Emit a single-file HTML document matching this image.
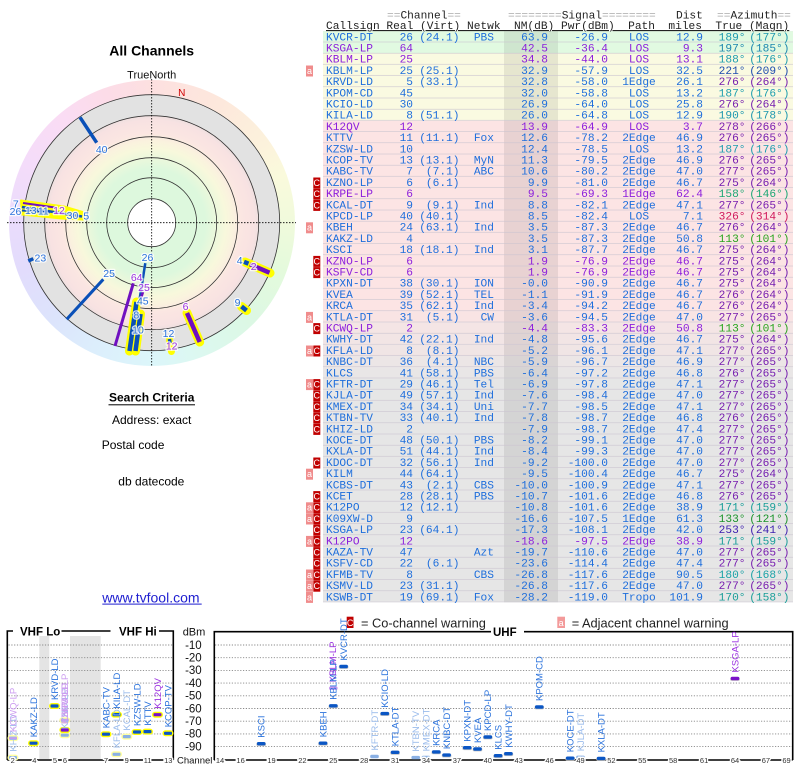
<!DOCTYPE html>
<html><head><meta charset="utf-8">
<style>
html,body{margin:0;padding:0;background:#fff}
body{width:800px;height:768px;overflow:hidden;position:relative}
svg text{font-family:"Liberation Sans",Arial,sans-serif}
.t text{font-family:"Liberation Mono",monospace;font-size:11.2px}
.e{text-anchor:end}.m{text-anchor:middle}
.B{fill:#1e6edc}.P{fill:#8c1edc}
.h{paint-order:stroke;stroke:#fff;stroke-width:2.6px;stroke-opacity:.8;stroke-linejoin:round}
.rl text{font-size:10.5px}
.vl text{font-size:9.5px}
.lb{fill:#2a72dc}.lbf{fill:#9bbcec}.lp{fill:#9a30e0}.lpf{fill:#cc9cf0}
.ax text{font-size:7.5px;fill:#333;text-anchor:middle;paint-order:stroke;stroke:#fff;stroke-width:3px}
.yl text{font-size:11.5px;fill:#111;text-anchor:end}
.ic text{font-size:9px;fill:#fff;text-anchor:middle}
</style></head><body>
<div style="position:absolute;left:8.7px;top:79.7px;width:286px;height:286px;border-radius:50%;background:conic-gradient(#fde0e0 0deg,#fde8dc 30deg,#fcf2dc 55deg,#fafadc 70deg,#f0fadc 90deg,#e4fadc 110deg,#dcf8e4 135deg,#dcf8f0 160deg,#dcf6fa 180deg,#dceefc 205deg,#dce4fc 225deg,#e2dcfc 250deg,#eadcfc 270deg,#f4dcfa 295deg,#fadcf4 320deg,#fcdce8 340deg,#fde0e0 360deg)"></div>
<svg style="position:absolute;left:0;top:0" width="800" height="768" viewBox="0 0 800 768">
<defs>
<radialGradient id="rg" gradientUnits="userSpaceOnUse" cx="151.7" cy="222.7" r="128">
<stop offset="0" stop-color="#ddf8dd"/><stop offset="0.42" stop-color="#ddf8dd"/><stop offset="0.52" stop-color="#eef8dc"/><stop offset="0.58" stop-color="#f8f8dc"/><stop offset="0.64" stop-color="#faf2de"/><stop offset="0.7" stop-color="#fbe6e2"/><stop offset="0.8" stop-color="#f8e2e2"/><stop offset="0.835" stop-color="#efe0e0"/><stop offset="0.842" stop-color="#e2e2e2"/><stop offset="1" stop-color="#e2e2e2"/>
</radialGradient>
<pattern id="sep" patternUnits="userSpaceOnUse" x="0" y="31.1" width="800" height="11.2"><rect x="0" y="10.6" width="800" height="0.9" fill="#cbc4d0"/></pattern>
</defs>

<!-- ===== Polar chart ===== -->
<text x="151.7" y="55.7" text-anchor="middle" style="font-size:14px;font-weight:bold" fill="#000">All Channels</text>
<text x="151.7" y="78.3" text-anchor="middle" style="font-size:11px" fill="#111">TrueNorth</text>
<circle cx="151.7" cy="222.7" r="128" fill="url(#rg)"/>
<g fill="none" stroke="#333" stroke-width="0.8">
<circle cx="151.7" cy="222.7" r="128"/><circle cx="151.7" cy="222.7" r="107"/><circle cx="151.7" cy="222.7" r="86"/><circle cx="151.7" cy="222.7" r="65"/><circle cx="151.7" cy="222.7" r="45"/>
</g>
<circle cx="151.7" cy="222.7" r="24" fill="#fff" stroke="#333" stroke-width="0.8"/>
<path d="M7,222.7H296M151.7,79V367" stroke="#000" stroke-width="0.8" stroke-dasharray="1.5 1.5" fill="none"/>
<text x="181.7" y="96" text-anchor="middle" style="font-size:10px" fill="#d00000">N</text>

<!-- stations -->
<g stroke-linecap="butt" fill="none">
<line x1="80" y1="117.3" x2="96.7" y2="142.7" stroke="#0a50b8" stroke-width="3.5"/>
<path d="M21,200.5 L64,206.5 L82.5,212 L83,219.5 L62,218.5 L22,214.5 Z" fill="#ffff00" stroke="#ffff00" stroke-width="2" stroke-linejoin="round"/>
<line x1="23" y1="203" x2="55" y2="207.5" stroke="#7010c0" stroke-width="2"/>
<line x1="22" y1="207" x2="82" y2="216.5" stroke="#0a50b8" stroke-width="2.5"/>
<line x1="22" y1="210.5" x2="50" y2="212.5" stroke="#0a50b8" stroke-width="2"/>
<line x1="28.3" y1="261" x2="33.3" y2="258.7" stroke="#0a50b8" stroke-width="3.5"/>
<line x1="66.7" y1="319.3" x2="103.3" y2="279.3" stroke="#0a50b8" stroke-width="3"/>
<line x1="133.3" y1="283.3" x2="115" y2="346" stroke="#7010c0" stroke-width="3"/>
<line x1="145.3" y1="263.2" x2="131.7" y2="349.1" stroke="#0a50b8" stroke-width="2.5"/>
<line x1="143" y1="292" x2="138.5" y2="306" stroke="#7010c0" stroke-width="2.5"/>
<g stroke="#ffff00" stroke-width="9" stroke-linecap="round">
<line x1="136.5" y1="302" x2="129.5" y2="351"/><line x1="140.5" y1="314" x2="135.5" y2="351"/>
<line x1="169.5" y1="339.5" x2="171.5" y2="351.5" stroke-width="7"/>
<line x1="187" y1="313" x2="199.7" y2="342"/>
<line x1="245" y1="262" x2="270" y2="273"/>
<line x1="241.5" y1="306.5" x2="246.5" y2="310.5"/>
</g>
<line x1="136.5" y1="302" x2="129.5" y2="351" stroke="#0a50b8" stroke-width="4.5"/>
<line x1="140.5" y1="314" x2="135.5" y2="351" stroke="#0a50b8" stroke-width="4.5"/>
<line x1="169.5" y1="339" x2="170" y2="343" stroke="#0a50b8" stroke-width="3.5"/>
<line x1="187" y1="313" x2="199.7" y2="342" stroke="#7010c0" stroke-width="4.5"/>
<line x1="250" y1="264.3" x2="269.5" y2="272.7" stroke="#7010c0" stroke-width="4.5"/>
<line x1="244" y1="261.8" x2="248.5" y2="263.7" stroke="#0a50b8" stroke-width="4.5"/>
<line x1="241.5" y1="306.5" x2="246.5" y2="310.5" stroke="#0a50b8" stroke-width="4.5"/>
</g>
<g class="rl">
<text class="h lb" x="101.7" y="153" text-anchor="middle">40</text>
<text class="h lb" x="15.8" y="207.3" text-anchor="middle">7</text>
<text class="h lb" x="15.5" y="214.8" text-anchor="middle">26</text>
<text class="h lb" x="30.8" y="214" text-anchor="middle">13</text>
<text class="h lb" x="43.3" y="214.5" text-anchor="middle">11</text>
<text class="h lp" x="59" y="214" text-anchor="middle">12</text>
<text class="h lb" x="72.5" y="219" text-anchor="middle">30</text>
<text class="h lb" x="86.3" y="219.5" text-anchor="middle">5</text>
<text class="h lb" x="34.5" y="261.7">23</text>
<text class="h lb" x="103.3" y="276.8">25</text>
<text class="h lb" x="147.5" y="261" text-anchor="middle">26</text>
<text class="h lp" x="136.7" y="281" text-anchor="middle">64</text>
<text class="h lp" x="144" y="291" text-anchor="middle">25</text>
<text class="h lb" x="142.8" y="304.5" text-anchor="middle">45</text>
<text class="h lb" x="136.3" y="318.5" text-anchor="middle">8</text>
<text class="h lb" x="138" y="333.5" text-anchor="middle">10</text>
<text class="h lb" x="168.5" y="337" text-anchor="middle">12</text>
<text class="h lp" x="171.7" y="349.5" text-anchor="middle">12</text>
<text class="h lp" x="185.5" y="310" text-anchor="middle">6</text>
<text class="h lb" x="239.7" y="264" text-anchor="middle">4</text>
<text class="h lp" x="253.7" y="270" text-anchor="middle">2</text>
<text class="h lb" x="237.5" y="306" text-anchor="middle">9</text>
</g>

<!-- ===== Search criteria ===== -->
<text x="151.7" y="401.7" text-anchor="middle" style="font-size:12px;font-weight:bold" fill="#000">Search Criteria</text>
<rect x="108.5" y="404.3" width="86.5" height="1" fill="#000"/>
<text x="151.7" y="424" text-anchor="middle" style="font-size:12px" fill="#000">Address: exact</text>
<text x="101.7" y="449" style="font-size:12px" fill="#000">Postal code</text>
<text x="118.3" y="485.7" style="font-size:12px" fill="#000">db datecode</text>
<text x="102.3" y="602.3" style="font-size:14px" fill="#1f1fd0">www.tvfool.com</text>
<rect x="102.3" y="603.6" width="99.4" height="1" fill="#1f1fd0"/>

<!-- ===== Table ===== -->
<rect x="323" y="31.1" width="470" height="22.4" fill="#e1fae1"/>
<rect x="323" y="53.5" width="470" height="67.2" fill="#fafae1"/>
<rect x="323" y="120.7" width="470" height="190.4" fill="#fce4e4"/>
<rect x="323" y="311.1" width="470" height="11.2" fill="#f9e4e4"/>
<rect x="323" y="322.3" width="470" height="11.2" fill="#f4e5e5"/>
<rect x="323" y="333.5" width="470" height="11.2" fill="#f2e5e5"/>
<rect x="323" y="344.7" width="470" height="11.2" fill="#f0e5e5"/>
<rect x="323" y="355.9" width="470" height="11.2" fill="#ece6e6"/>
<rect x="323" y="367.1" width="470" height="11.2" fill="#e9e6e6"/>
<rect x="323" y="378.3" width="470" height="224" fill="#e6e6e6"/>
<rect x="504" y="31.1" width="54" height="571.2" fill="#000" fill-opacity="0.08"/>
<rect x="323" y="31.1" width="470" height="571.2" fill="url(#sep)"/>

<g class="t">
<text x="387" y="18.3" fill="#222"><tspan fill="#aaa">==</tspan>Channel<tspan fill="#aaa">==</tspan></text>
<text x="508" y="18.3" fill="#222"><tspan fill="#aaa">========</tspan>Signal<tspan fill="#aaa">========</tspan></text>
<text x="676" y="18.3" fill="#222">Dist</text>
<text x="717" y="18.3" fill="#222"><tspan fill="#aaa">==</tspan>Azimuth<tspan fill="#aaa">==</tspan></text>
<text x="326" y="29" fill="#222" xml:space="preserve" style="text-decoration:underline">Callsign Real (Virt) Netwk  NM(dB) Pwr(dBm)  Path  miles  True (Magn)</text>

<g class="B" transform="translate(0,40.3)"><text x="326">KVCR-DT</text><text class="e" x="413">26</text><text class="e" x="459.5">(24.1)</text><text class="e" x="494">PBS</text><text class="e" x="548">63.9</text><text class="e" x="608">-26.9</text><text class="m" x="639">LOS</text><text class="e" x="703">12.9</text><text class="e" x="745.5" fill="hsl(189,72%,40%)">189°</text><text class="e" x="789.5" fill="hsl(189,72%,40%)">(177°)</text></g>
<g class="P" transform="translate(0,51.5)"><text x="326">KSGA-LP</text><text class="e" x="413">64</text><text class="e" x="548">42.5</text><text class="e" x="608">-36.4</text><text class="m" x="639">LOS</text><text class="e" x="703">9.3</text><text class="e" x="745.5" fill="hsl(197,72%,40%)">197°</text><text class="e" x="789.5" fill="hsl(197,72%,40%)">(185°)</text></g>
<g class="P" transform="translate(0,62.7)"><text x="326">KBLM-LP</text><text class="e" x="413">25</text><text class="e" x="548">34.8</text><text class="e" x="608">-44.0</text><text class="m" x="639">LOS</text><text class="e" x="703">13.1</text><text class="e" x="745.5" fill="hsl(188,72%,40%)">188°</text><text class="e" x="789.5" fill="hsl(188,72%,40%)">(176°)</text></g>
<g class="B" transform="translate(0,73.9)"><text x="326">KBLM-LP</text><text class="e" x="413">25</text><text class="e" x="459.5">(25.1)</text><text class="e" x="548">32.9</text><text class="e" x="608">-57.9</text><text class="m" x="639">LOS</text><text class="e" x="703">32.5</text><text class="e" x="745.5" fill="hsl(221,72%,40%)">221°</text><text class="e" x="789.5" fill="hsl(221,72%,40%)">(209°)</text></g>
<g class="B" transform="translate(0,85.1)"><text x="326">KRVD-LD</text><text class="e" x="413">5</text><text class="e" x="459.5">(33.1)</text><text class="e" x="548">32.8</text><text class="e" x="608">-58.0</text><text class="m" x="639">1Edge</text><text class="e" x="703">26.1</text><text class="e" x="745.5" fill="hsl(276,72%,40%)">276°</text><text class="e" x="789.5" fill="hsl(276,72%,40%)">(264°)</text></g>
<g class="B" transform="translate(0,96.3)"><text x="326">KPOM-CD</text><text class="e" x="413">45</text><text class="e" x="548">32.0</text><text class="e" x="608">-58.8</text><text class="m" x="639">LOS</text><text class="e" x="703">13.2</text><text class="e" x="745.5" fill="hsl(187,72%,40%)">187°</text><text class="e" x="789.5" fill="hsl(187,72%,40%)">(176°)</text></g>
<g class="B" transform="translate(0,107.5)"><text x="326">KCIO-LD</text><text class="e" x="413">30</text><text class="e" x="548">26.9</text><text class="e" x="608">-64.0</text><text class="m" x="639">LOS</text><text class="e" x="703">25.8</text><text class="e" x="745.5" fill="hsl(276,72%,40%)">276°</text><text class="e" x="789.5" fill="hsl(276,72%,40%)">(264°)</text></g>
<g class="B" transform="translate(0,118.7)"><text x="326">KILA-LD</text><text class="e" x="413">8</text><text class="e" x="459.5">(51.1)</text><text class="e" x="548">26.0</text><text class="e" x="608">-64.8</text><text class="m" x="639">LOS</text><text class="e" x="703">12.9</text><text class="e" x="745.5" fill="hsl(190,72%,40%)">190°</text><text class="e" x="789.5" fill="hsl(190,72%,40%)">(178°)</text></g>
<g class="P" transform="translate(0,129.9)"><text x="326">K12QV</text><text class="e" x="413">12</text><text class="e" x="548">13.9</text><text class="e" x="608">-64.9</text><text class="m" x="639">LOS</text><text class="e" x="703">3.7</text><text class="e" x="745.5" fill="hsl(278,72%,40%)">278°</text><text class="e" x="789.5" fill="hsl(278,72%,40%)">(266°)</text></g>
<g class="B" transform="translate(0,141.1)"><text x="326">KTTV</text><text class="e" x="413">11</text><text class="e" x="459.5">(11.1)</text><text class="e" x="494">Fox</text><text class="e" x="548">12.6</text><text class="e" x="608">-78.2</text><text class="m" x="639">2Edge</text><text class="e" x="703">46.9</text><text class="e" x="745.5" fill="hsl(276,72%,40%)">276°</text><text class="e" x="789.5" fill="hsl(276,72%,40%)">(265°)</text></g>
<g class="B" transform="translate(0,152.3)"><text x="326">KZSW-LD</text><text class="e" x="413">10</text><text class="e" x="548">12.4</text><text class="e" x="608">-78.5</text><text class="m" x="639">LOS</text><text class="e" x="703">13.2</text><text class="e" x="745.5" fill="hsl(187,72%,40%)">187°</text><text class="e" x="789.5" fill="hsl(187,72%,40%)">(176°)</text></g>
<g class="B" transform="translate(0,163.5)"><text x="326">KCOP-TV</text><text class="e" x="413">13</text><text class="e" x="459.5">(13.1)</text><text class="e" x="494">MyN</text><text class="e" x="548">11.3</text><text class="e" x="608">-79.5</text><text class="m" x="639">2Edge</text><text class="e" x="703">46.9</text><text class="e" x="745.5" fill="hsl(276,72%,40%)">276°</text><text class="e" x="789.5" fill="hsl(276,72%,40%)">(265°)</text></g>
<g class="B" transform="translate(0,174.7)"><text x="326">KABC-TV</text><text class="e" x="413">7</text><text class="e" x="459.5">(7.1)</text><text class="e" x="494">ABC</text><text class="e" x="548">10.6</text><text class="e" x="608">-80.2</text><text class="m" x="639">2Edge</text><text class="e" x="703">47.0</text><text class="e" x="745.5" fill="hsl(277,72%,40%)">277°</text><text class="e" x="789.5" fill="hsl(277,72%,40%)">(265°)</text></g>
<g class="B" transform="translate(0,185.9)"><text x="326">KZNO-LP</text><text class="e" x="413">6</text><text class="e" x="459.5">(6.1)</text><text class="e" x="548">9.9</text><text class="e" x="608">-81.0</text><text class="m" x="639">2Edge</text><text class="e" x="703">46.7</text><text class="e" x="745.5" fill="hsl(275,72%,40%)">275°</text><text class="e" x="789.5" fill="hsl(275,72%,40%)">(264°)</text></g>
<g class="P" transform="translate(0,197.1)"><text x="326">KRPE-LP</text><text class="e" x="413">6</text><text class="e" x="548">9.5</text><text class="e" x="608">-69.3</text><text class="m" x="639">1Edge</text><text class="e" x="703">62.4</text><text class="e" x="745.5" fill="hsl(158,72%,38%)">158°</text><text class="e" x="789.5" fill="hsl(158,72%,38%)">(146°)</text></g>
<g class="B" transform="translate(0,208.3)"><text x="326">KCAL-DT</text><text class="e" x="413">9</text><text class="e" x="459.5">(9.1)</text><text class="e" x="494">Ind</text><text class="e" x="548">8.8</text><text class="e" x="608">-82.1</text><text class="m" x="639">2Edge</text><text class="e" x="703">47.1</text><text class="e" x="745.5" fill="hsl(277,72%,40%)">277°</text><text class="e" x="789.5" fill="hsl(277,72%,40%)">(265°)</text></g>
<g class="B" transform="translate(0,219.5)"><text x="326">KPCD-LP</text><text class="e" x="413">40</text><text class="e" x="459.5">(40.1)</text><text class="e" x="548">8.5</text><text class="e" x="608">-82.4</text><text class="m" x="639">LOS</text><text class="e" x="703">7.1</text><text class="e" x="745.5" fill="hsl(338,80%,45%)">326°</text><text class="e" x="789.5" fill="hsl(338,80%,45%)">(314°)</text></g>
<g class="B" transform="translate(0,230.7)"><text x="326">KBEH</text><text class="e" x="413">24</text><text class="e" x="459.5">(63.1)</text><text class="e" x="494">Ind</text><text class="e" x="548">3.5</text><text class="e" x="608">-87.3</text><text class="m" x="639">2Edge</text><text class="e" x="703">46.7</text><text class="e" x="745.5" fill="hsl(276,72%,40%)">276°</text><text class="e" x="789.5" fill="hsl(276,72%,40%)">(264°)</text></g>
<g class="B" transform="translate(0,241.9)"><text x="326">KAKZ-LD</text><text class="e" x="413">4</text><text class="e" x="548">3.5</text><text class="e" x="608">-87.3</text><text class="m" x="639">2Edge</text><text class="e" x="703">50.8</text><text class="e" x="745.5" fill="hsl(115,70%,38%)">113°</text><text class="e" x="789.5" fill="hsl(115,70%,38%)">(101°)</text></g>
<g class="B" transform="translate(0,253.1)"><text x="326">KSCI</text><text class="e" x="413">18</text><text class="e" x="459.5">(18.1)</text><text class="e" x="494">Ind</text><text class="e" x="548">3.1</text><text class="e" x="608">-87.7</text><text class="m" x="639">2Edge</text><text class="e" x="703">46.7</text><text class="e" x="745.5" fill="hsl(275,72%,40%)">275°</text><text class="e" x="789.5" fill="hsl(275,72%,40%)">(264°)</text></g>
<g class="P" transform="translate(0,264.3)"><text x="326">KZNO-LP</text><text class="e" x="413">6</text><text class="e" x="548">1.9</text><text class="e" x="608">-76.9</text><text class="m" x="639">2Edge</text><text class="e" x="703">46.7</text><text class="e" x="745.5" fill="hsl(275,72%,40%)">275°</text><text class="e" x="789.5" fill="hsl(275,72%,40%)">(264°)</text></g>
<g class="P" transform="translate(0,275.5)"><text x="326">KSFV-CD</text><text class="e" x="413">6</text><text class="e" x="548">1.9</text><text class="e" x="608">-76.9</text><text class="m" x="639">2Edge</text><text class="e" x="703">46.7</text><text class="e" x="745.5" fill="hsl(275,72%,40%)">275°</text><text class="e" x="789.5" fill="hsl(275,72%,40%)">(264°)</text></g>
<g class="B" transform="translate(0,286.7)"><text x="326">KPXN-DT</text><text class="e" x="413">38</text><text class="e" x="459.5">(30.1)</text><text class="e" x="494">ION</text><text class="e" x="548">-0.0</text><text class="e" x="608">-90.9</text><text class="m" x="639">2Edge</text><text class="e" x="703">46.7</text><text class="e" x="745.5" fill="hsl(275,72%,40%)">275°</text><text class="e" x="789.5" fill="hsl(275,72%,40%)">(264°)</text></g>
<g class="B" transform="translate(0,297.9)"><text x="326">KVEA</text><text class="e" x="413">39</text><text class="e" x="459.5">(52.1)</text><text class="e" x="494">TEL</text><text class="e" x="548">-1.1</text><text class="e" x="608">-91.9</text><text class="m" x="639">2Edge</text><text class="e" x="703">46.7</text><text class="e" x="745.5" fill="hsl(276,72%,40%)">276°</text><text class="e" x="789.5" fill="hsl(276,72%,40%)">(264°)</text></g>
<g class="B" transform="translate(0,309.1)"><text x="326">KRCA</text><text class="e" x="413">35</text><text class="e" x="459.5">(62.1)</text><text class="e" x="494">Ind</text><text class="e" x="548">-3.4</text><text class="e" x="608">-94.2</text><text class="m" x="639">2Edge</text><text class="e" x="703">46.7</text><text class="e" x="745.5" fill="hsl(276,72%,40%)">276°</text><text class="e" x="789.5" fill="hsl(276,72%,40%)">(264°)</text></g>
<g class="B" transform="translate(0,320.3)"><text x="326">KTLA-DT</text><text class="e" x="413">31</text><text class="e" x="459.5">(5.1)</text><text class="e" x="494">CW</text><text class="e" x="548">-3.6</text><text class="e" x="608">-94.5</text><text class="m" x="639">2Edge</text><text class="e" x="703">47.0</text><text class="e" x="745.5" fill="hsl(277,72%,40%)">277°</text><text class="e" x="789.5" fill="hsl(277,72%,40%)">(265°)</text></g>
<g class="P" transform="translate(0,331.5)"><text x="326">KCWQ-LP</text><text class="e" x="413">2</text><text class="e" x="548">-4.4</text><text class="e" x="608">-83.3</text><text class="m" x="639">2Edge</text><text class="e" x="703">50.8</text><text class="e" x="745.5" fill="hsl(115,70%,38%)">113°</text><text class="e" x="789.5" fill="hsl(115,70%,38%)">(101°)</text></g>
<g class="B" transform="translate(0,342.7)"><text x="326">KWHY-DT</text><text class="e" x="413">42</text><text class="e" x="459.5">(22.1)</text><text class="e" x="494">Ind</text><text class="e" x="548">-4.8</text><text class="e" x="608">-95.6</text><text class="m" x="639">2Edge</text><text class="e" x="703">46.7</text><text class="e" x="745.5" fill="hsl(275,72%,40%)">275°</text><text class="e" x="789.5" fill="hsl(275,72%,40%)">(264°)</text></g>
<g class="B" transform="translate(0,353.9)"><text x="326">KFLA-LD</text><text class="e" x="413">8</text><text class="e" x="459.5">(8.1)</text><text class="e" x="548">-5.2</text><text class="e" x="608">-96.1</text><text class="m" x="639">2Edge</text><text class="e" x="703">47.1</text><text class="e" x="745.5" fill="hsl(277,72%,40%)">277°</text><text class="e" x="789.5" fill="hsl(277,72%,40%)">(265°)</text></g>
<g class="B" transform="translate(0,365.1)"><text x="326">KNBC-DT</text><text class="e" x="413">36</text><text class="e" x="459.5">(4.1)</text><text class="e" x="494">NBC</text><text class="e" x="548">-5.9</text><text class="e" x="608">-96.7</text><text class="m" x="639">2Edge</text><text class="e" x="703">46.9</text><text class="e" x="745.5" fill="hsl(277,72%,40%)">277°</text><text class="e" x="789.5" fill="hsl(277,72%,40%)">(265°)</text></g>
<g class="B" transform="translate(0,376.3)"><text x="326">KLCS</text><text class="e" x="413">41</text><text class="e" x="459.5">(58.1)</text><text class="e" x="494">PBS</text><text class="e" x="548">-6.4</text><text class="e" x="608">-97.2</text><text class="m" x="639">2Edge</text><text class="e" x="703">46.8</text><text class="e" x="745.5" fill="hsl(276,72%,40%)">276°</text><text class="e" x="789.5" fill="hsl(276,72%,40%)">(265°)</text></g>
<g class="B" transform="translate(0,387.5)"><text x="326">KFTR-DT</text><text class="e" x="413">29</text><text class="e" x="459.5">(46.1)</text><text class="e" x="494">Tel</text><text class="e" x="548">-6.9</text><text class="e" x="608">-97.8</text><text class="m" x="639">2Edge</text><text class="e" x="703">47.1</text><text class="e" x="745.5" fill="hsl(277,72%,40%)">277°</text><text class="e" x="789.5" fill="hsl(277,72%,40%)">(265°)</text></g>
<g class="B" transform="translate(0,398.7)"><text x="326">KJLA-DT</text><text class="e" x="413">49</text><text class="e" x="459.5">(57.1)</text><text class="e" x="494">Ind</text><text class="e" x="548">-7.6</text><text class="e" x="608">-98.4</text><text class="m" x="639">2Edge</text><text class="e" x="703">47.0</text><text class="e" x="745.5" fill="hsl(277,72%,40%)">277°</text><text class="e" x="789.5" fill="hsl(277,72%,40%)">(265°)</text></g>
<g class="B" transform="translate(0,409.9)"><text x="326">KMEX-DT</text><text class="e" x="413">34</text><text class="e" x="459.5">(34.1)</text><text class="e" x="494">Uni</text><text class="e" x="548">-7.7</text><text class="e" x="608">-98.5</text><text class="m" x="639">2Edge</text><text class="e" x="703">47.1</text><text class="e" x="745.5" fill="hsl(277,72%,40%)">277°</text><text class="e" x="789.5" fill="hsl(277,72%,40%)">(265°)</text></g>
<g class="B" transform="translate(0,421.1)"><text x="326">KTBN-TV</text><text class="e" x="413">33</text><text class="e" x="459.5">(40.1)</text><text class="e" x="494">Ind</text><text class="e" x="548">-7.8</text><text class="e" x="608">-98.7</text><text class="m" x="639">2Edge</text><text class="e" x="703">46.8</text><text class="e" x="745.5" fill="hsl(276,72%,40%)">276°</text><text class="e" x="789.5" fill="hsl(276,72%,40%)">(265°)</text></g>
<g class="B" transform="translate(0,432.3)"><text x="326">KHIZ-LD</text><text class="e" x="413">2</text><text class="e" x="548">-7.9</text><text class="e" x="608">-98.7</text><text class="m" x="639">2Edge</text><text class="e" x="703">47.4</text><text class="e" x="745.5" fill="hsl(277,72%,40%)">277°</text><text class="e" x="789.5" fill="hsl(277,72%,40%)">(265°)</text></g>
<g class="B" transform="translate(0,443.5)"><text x="326">KOCE-DT</text><text class="e" x="413">48</text><text class="e" x="459.5">(50.1)</text><text class="e" x="494">PBS</text><text class="e" x="548">-8.2</text><text class="e" x="608">-99.1</text><text class="m" x="639">2Edge</text><text class="e" x="703">47.0</text><text class="e" x="745.5" fill="hsl(277,72%,40%)">277°</text><text class="e" x="789.5" fill="hsl(277,72%,40%)">(265°)</text></g>
<g class="B" transform="translate(0,454.7)"><text x="326">KXLA-DT</text><text class="e" x="413">51</text><text class="e" x="459.5">(44.1)</text><text class="e" x="494">Ind</text><text class="e" x="548">-8.4</text><text class="e" x="608">-99.3</text><text class="m" x="639">2Edge</text><text class="e" x="703">47.0</text><text class="e" x="745.5" fill="hsl(277,72%,40%)">277°</text><text class="e" x="789.5" fill="hsl(277,72%,40%)">(265°)</text></g>
<g class="B" transform="translate(0,465.9)"><text x="326">KDOC-DT</text><text class="e" x="413">32</text><text class="e" x="459.5">(56.1)</text><text class="e" x="494">Ind</text><text class="e" x="548">-9.2</text><text class="e" x="608">-100.0</text><text class="m" x="639">2Edge</text><text class="e" x="703">47.0</text><text class="e" x="745.5" fill="hsl(277,72%,40%)">277°</text><text class="e" x="789.5" fill="hsl(277,72%,40%)">(265°)</text></g>
<g class="B" transform="translate(0,477.1)"><text x="326">KILM</text><text class="e" x="413">44</text><text class="e" x="459.5">(64.1)</text><text class="e" x="548">-9.5</text><text class="e" x="608">-100.4</text><text class="m" x="639">2Edge</text><text class="e" x="703">46.7</text><text class="e" x="745.5" fill="hsl(275,72%,40%)">275°</text><text class="e" x="789.5" fill="hsl(275,72%,40%)">(264°)</text></g>
<g class="B" transform="translate(0,488.3)"><text x="326">KCBS-DT</text><text class="e" x="413">43</text><text class="e" x="459.5">(2.1)</text><text class="e" x="494">CBS</text><text class="e" x="548">-10.0</text><text class="e" x="608">-100.9</text><text class="m" x="639">2Edge</text><text class="e" x="703">47.1</text><text class="e" x="745.5" fill="hsl(277,72%,40%)">277°</text><text class="e" x="789.5" fill="hsl(277,72%,40%)">(265°)</text></g>
<g class="B" transform="translate(0,499.5)"><text x="326">KCET</text><text class="e" x="413">28</text><text class="e" x="459.5">(28.1)</text><text class="e" x="494">PBS</text><text class="e" x="548">-10.7</text><text class="e" x="608">-101.6</text><text class="m" x="639">2Edge</text><text class="e" x="703">46.8</text><text class="e" x="745.5" fill="hsl(276,72%,40%)">276°</text><text class="e" x="789.5" fill="hsl(276,72%,40%)">(265°)</text></g>
<g class="B" transform="translate(0,510.7)"><text x="326">K12PO</text><text class="e" x="413">12</text><text class="e" x="459.5">(12.1)</text><text class="e" x="548">-10.8</text><text class="e" x="608">-101.6</text><text class="m" x="639">2Edge</text><text class="e" x="703">38.9</text><text class="e" x="745.5" fill="hsl(178,72%,36%)">171°</text><text class="e" x="789.5" fill="hsl(178,72%,36%)">(159°)</text></g>
<g class="B" transform="translate(0,521.9)"><text x="326">K09XW-D</text><text class="e" x="413">9</text><text class="e" x="548">-16.6</text><text class="e" x="608">-107.5</text><text class="m" x="639">1Edge</text><text class="e" x="703">61.3</text><text class="e" x="745.5" fill="hsl(128,70%,34%)">133°</text><text class="e" x="789.5" fill="hsl(128,70%,34%)">(121°)</text></g>
<g class="B" transform="translate(0,533.1)"><text x="326">KSGA-LP</text><text class="e" x="413">23</text><text class="e" x="459.5">(64.1)</text><text class="e" x="548">-17.3</text><text class="e" x="608">-108.1</text><text class="m" x="639">2Edge</text><text class="e" x="703">42.0</text><text class="e" x="745.5" fill="hsl(253,72%,40%)">253°</text><text class="e" x="789.5" fill="hsl(253,72%,40%)">(241°)</text></g>
<g class="P" transform="translate(0,544.3)"><text x="326">K12PO</text><text class="e" x="413">12</text><text class="e" x="548">-18.6</text><text class="e" x="608">-97.5</text><text class="m" x="639">2Edge</text><text class="e" x="703">38.9</text><text class="e" x="745.5" fill="hsl(178,72%,36%)">171°</text><text class="e" x="789.5" fill="hsl(178,72%,36%)">(159°)</text></g>
<g class="B" transform="translate(0,555.5)"><text x="326">KAZA-TV</text><text class="e" x="413">47</text><text class="e" x="494">Azt</text><text class="e" x="548">-19.7</text><text class="e" x="608">-110.6</text><text class="m" x="639">2Edge</text><text class="e" x="703">47.0</text><text class="e" x="745.5" fill="hsl(277,72%,40%)">277°</text><text class="e" x="789.5" fill="hsl(277,72%,40%)">(265°)</text></g>
<g class="B" transform="translate(0,566.7)"><text x="326">KSFV-CD</text><text class="e" x="413">22</text><text class="e" x="459.5">(6.1)</text><text class="e" x="548">-23.6</text><text class="e" x="608">-114.4</text><text class="m" x="639">2Edge</text><text class="e" x="703">47.4</text><text class="e" x="745.5" fill="hsl(277,72%,40%)">277°</text><text class="e" x="789.5" fill="hsl(277,72%,40%)">(265°)</text></g>
<g class="B" transform="translate(0,577.9)"><text x="326">KFMB-TV</text><text class="e" x="413">8</text><text class="e" x="494">CBS</text><text class="e" x="548">-26.8</text><text class="e" x="608">-117.6</text><text class="m" x="639">2Edge</text><text class="e" x="703">90.5</text><text class="e" x="745.5" fill="hsl(182,72%,38%)">180°</text><text class="e" x="789.5" fill="hsl(182,72%,38%)">(168°)</text></g>
<g class="B" transform="translate(0,589.1)"><text x="326">KSMV-LD</text><text class="e" x="413">23</text><text class="e" x="459.5">(31.1)</text><text class="e" x="548">-26.8</text><text class="e" x="608">-117.6</text><text class="m" x="639">2Edge</text><text class="e" x="703">47.0</text><text class="e" x="745.5" fill="hsl(277,72%,40%)">277°</text><text class="e" x="789.5" fill="hsl(277,72%,40%)">(265°)</text></g>
<g class="B" transform="translate(0,600.3)"><text x="326">KSWB-DT</text><text class="e" x="413">19</text><text class="e" x="459.5">(69.1)</text><text class="e" x="494">Fox</text><text class="e" x="548">-28.2</text><text class="e" x="608">-119.0</text><text class="m" x="639">Tropo</text><text class="e" x="703">101.9</text><text class="e" x="745.5" fill="hsl(178,72%,36%)">170°</text><text class="e" x="789.5" fill="hsl(178,72%,36%)">(158°)</text></g>
</g>

<!-- warning icons -->
<g class="ic">
<rect x="306" y="65.5" width="7" height="11" fill="#f08c8c"/><text x="309.5" y="73.9">a</text>
<rect x="313.3" y="177.5" width="7" height="11" fill="#c00000"/><text x="316.8" y="185.9">C</text>
<rect x="313.3" y="188.7" width="7" height="11" fill="#c00000"/><text x="316.8" y="197.1">C</text>
<rect x="313.3" y="199.9" width="7" height="11" fill="#c00000"/><text x="316.8" y="208.3">C</text>
<rect x="306" y="222.3" width="7" height="11" fill="#f08c8c"/><text x="309.5" y="230.7">a</text>
<rect x="313.3" y="255.9" width="7" height="11" fill="#c00000"/><text x="316.8" y="264.3">C</text>
<rect x="313.3" y="267.1" width="7" height="11" fill="#c00000"/><text x="316.8" y="275.5">C</text>
<rect x="306" y="311.9" width="7" height="11" fill="#f08c8c"/><text x="309.5" y="320.3">a</text>
<rect x="313.3" y="323.1" width="7" height="11" fill="#c00000"/><text x="316.8" y="331.5">C</text>
<rect x="306" y="345.5" width="7" height="11" fill="#f08c8c"/><text x="309.5" y="353.9">a</text>
<rect x="313.3" y="345.5" width="7" height="11" fill="#c00000"/><text x="316.8" y="353.9">C</text>
<rect x="306" y="379.1" width="7" height="11" fill="#f08c8c"/><text x="309.5" y="387.5">a</text>
<rect x="313.3" y="379.1" width="7" height="11" fill="#c00000"/><text x="316.8" y="387.5">C</text>
<rect x="313.3" y="390.3" width="7" height="11" fill="#c00000"/><text x="316.8" y="398.7">C</text>
<rect x="313.3" y="401.5" width="7" height="11" fill="#c00000"/><text x="316.8" y="409.9">C</text>
<rect x="313.3" y="412.7" width="7" height="11" fill="#c00000"/><text x="316.8" y="421.1">C</text>
<rect x="313.3" y="423.9" width="7" height="11" fill="#c00000"/><text x="316.8" y="432.3">C</text>
<rect x="313.3" y="457.5" width="7" height="11" fill="#c00000"/><text x="316.8" y="465.9">C</text>
<rect x="306" y="468.7" width="7" height="11" fill="#f08c8c"/><text x="309.5" y="477.1">a</text>
<rect x="313.3" y="491.1" width="7" height="11" fill="#c00000"/><text x="316.8" y="499.5">C</text>
<rect x="306" y="502.3" width="7" height="11" fill="#f08c8c"/><text x="309.5" y="510.7">a</text>
<rect x="313.3" y="502.3" width="7" height="11" fill="#c00000"/><text x="316.8" y="510.7">C</text>
<rect x="306" y="513.5" width="7" height="11" fill="#f08c8c"/><text x="309.5" y="521.9">a</text>
<rect x="313.3" y="513.5" width="7" height="11" fill="#c00000"/><text x="316.8" y="521.9">C</text>
<rect x="313.3" y="524.7" width="7" height="11" fill="#c00000"/><text x="316.8" y="533.1">C</text>
<rect x="306" y="535.9" width="7" height="11" fill="#f08c8c"/><text x="309.5" y="544.3">a</text>
<rect x="313.3" y="535.9" width="7" height="11" fill="#c00000"/><text x="316.8" y="544.3">C</text>
<rect x="313.3" y="547.1" width="7" height="11" fill="#c00000"/><text x="316.8" y="555.5">C</text>
<rect x="313.3" y="558.3" width="7" height="11" fill="#c00000"/><text x="316.8" y="566.7">C</text>
<rect x="306" y="569.5" width="7" height="11" fill="#f08c8c"/><text x="309.5" y="577.9">a</text>
<rect x="313.3" y="569.5" width="7" height="11" fill="#c00000"/><text x="316.8" y="577.9">C</text>
<rect x="306" y="580.7" width="7" height="11" fill="#f08c8c"/><text x="309.5" y="589.1">a</text>
<rect x="313.3" y="580.7" width="7" height="11" fill="#c00000"/><text x="316.8" y="589.1">C</text>
<rect x="306" y="591.9" width="7" height="11" fill="#f08c8c"/><text x="309.5" y="600.3">a</text>
</g>

<!-- ===== Bottom chart ===== -->
<rect x="39.3" y="636" width="10" height="123" fill="#e4e4e4"/>
<rect x="70" y="636" width="30.7" height="123" fill="#e4e4e4"/>
<g stroke="#888" stroke-width="0.9" stroke-dasharray="1.2 1.6" fill="none">
<path d="M8.5,645H172.5M8.5,657.7H172.5M8.5,670.4H172.5M8.5,683.1H172.5M8.5,695.8H172.5M8.5,708.5H172.5M8.5,721.2H172.5M8.5,733.9H172.5M8.5,746.6H172.5"/>
<path d="M215,645H792M215,657.7H792M215,670.4H792M215,683.1H792M215,695.8H792M215,708.5H792M215,721.2H792M215,733.9H792M215,746.6H792"/>
</g>
<path d="M7.3,760V631H13M61.5,631H110.5M159,631H173.3V760" stroke="#000" stroke-width="1.6" fill="none"/>
<path d="M214.3,760V631.7H491M524,631.7H792.7V760" stroke="#000" stroke-width="1.6" fill="none"/>
<text x="20" y="635.5" style="font-size:11.5px;font-weight:bold" fill="#000">VHF Lo</text>
<text x="119" y="635.5" style="font-size:11.5px;font-weight:bold" fill="#000">VHF Hi</text>
<text x="493" y="636" style="font-size:11.5px;font-weight:bold" fill="#000">UHF</text>
<text x="182.7" y="635.5" style="font-size:11px" fill="#111">dBm</text>
<g class="yl">
<text x="201.7" y="648.8">-10</text><text x="201.7" y="661.5">-20</text><text x="201.7" y="674.2">-30</text><text x="201.7" y="686.9">-40</text><text x="201.7" y="699.6">-50</text><text x="201.7" y="712.3">-60</text><text x="201.7" y="725">-70</text><text x="201.7" y="737.7">-80</text><text x="201.7" y="750.4">-90</text>
</g>
<path d="M7.3,760H173.3M214.3,760H792.7" stroke="#000" stroke-width="1.4"/>
<text x="177" y="763.5" style="font-size:9.5px" fill="#111">Channel</text>

<!-- legend -->
<rect x="346.7" y="616.7" width="6.8" height="11.3" fill="#c00000"/><text x="350.1" y="625.8" style="font-size:9px" fill="#fff" text-anchor="middle">C</text>
<text x="361" y="627.3" style="font-size:12.8px" fill="#222">= Co-channel warning</text>
<rect x="557.3" y="616.7" width="7.7" height="11.3" fill="#f39a9a"/><text x="561.1" y="625.8" style="font-size:9px" fill="#fff" text-anchor="middle">a</text>
<text x="571.7" y="627.3" style="font-size:12.8px" fill="#222">= Adjacent channel warning</text>

<!-- VHF bars -->
<g>
<rect x="7.5" y="754.6" width="11" height="6" rx="3" fill="#ffffa0"/><rect x="9" y="756" width="8" height="3.2" rx="1" fill="#8ab0e4"/>
<rect x="7.5" y="735.1" width="11" height="6" rx="3" fill="#ffffa0"/><rect x="9" y="736.5" width="8" height="3.2" rx="1" fill="#c898f0"/>
<rect x="28" y="740.2" width="11" height="6" rx="3" fill="#ffff00"/><rect x="29.5" y="741.6" width="8" height="3.2" rx="1" fill="#0b56c4"/>
<rect x="49" y="703" width="11" height="6" rx="3" fill="#ffff00"/><rect x="50.5" y="704.4" width="8" height="3.2" rx="1" fill="#0b56c4"/>
<rect x="59.3" y="717.3" width="11" height="6" rx="3" fill="#ffffa0"/><rect x="60.8" y="718.7" width="8" height="3.2" rx="1" fill="#c898f0"/>
<rect x="59.3" y="732.2" width="11" height="6" rx="3" fill="#ffffa0"/><rect x="60.8" y="733.6" width="8" height="3.2" rx="1" fill="#8ab0e4"/>
<rect x="59.3" y="727" width="11" height="6" rx="3" fill="#ffff00"/><rect x="60.8" y="728.4" width="8" height="3.2" rx="1" fill="#7a12c8"/>
<rect x="100.5" y="731.2" width="11" height="6" rx="3" fill="#ffff00"/><rect x="102" y="732.6" width="8" height="3.2" rx="1" fill="#0b56c4"/>
<rect x="111" y="751.3" width="11" height="6" rx="3" fill="#ffffa0"/><rect x="112.5" y="752.7" width="8" height="3.2" rx="1" fill="#8ab0e4"/>
<rect x="111" y="711.6" width="11" height="6" rx="3" fill="#ffff00"/><rect x="112.5" y="713" width="8" height="3.2" rx="1" fill="#0b56c4"/>
<rect x="121.3" y="733.6" width="11" height="6" rx="3" fill="#ffffa0"/><rect x="122.8" y="735" width="8" height="3.2" rx="1" fill="#8ab0e4"/>
<rect x="131.5" y="729" width="11" height="6" rx="3" fill="#ffff00"/><rect x="133" y="730.4" width="8" height="3.2" rx="1" fill="#0b56c4"/>
<rect x="142" y="728.6" width="11" height="6" rx="3" fill="#ffff00"/><rect x="143.5" y="730" width="8" height="3.2" rx="1" fill="#0b56c4"/>
<rect x="152" y="711.7" width="11" height="6" rx="3" fill="#ffff00"/><rect x="153.5" y="713.1" width="8" height="3.2" rx="1" fill="#7a12c8"/>
<rect x="162.5" y="730.3" width="11" height="6" rx="3" fill="#ffff00"/><rect x="164" y="731.7" width="8" height="3.2" rx="1" fill="#0b56c4"/>
</g>

<!-- UHF bars -->
<g>
<rect x="256.4" y="742.5" width="9.6" height="3.6" rx="1.5" fill="#c4c4c4"/><rect x="256.9" y="742" width="8.6" height="3.4" rx="1.5" fill="#0b56c4"/>
<rect x="318.2" y="742" width="9.6" height="3.6" rx="1.5" fill="#c4c4c4"/><rect x="318.7" y="741.5" width="8.6" height="3.4" rx="1.5" fill="#0b56c4"/>
<rect x="328.5" y="704.6" width="9.6" height="3.6" rx="1.5" fill="#c4c4c4"/><rect x="329" y="704.1" width="8.6" height="3.4" rx="1.5" fill="#0b56c4"/>
<rect x="329" y="686.5" width="8.6" height="3.4" rx="1.5" fill="#c898f0"/>
<rect x="338.8" y="665.3" width="9.6" height="3.6" rx="1.5" fill="#c4c4c4"/><rect x="339.3" y="664.8" width="8.6" height="3.4" rx="1.5" fill="#0b56c4"/>
<rect x="370.2" y="754.8" width="8.6" height="3.4" rx="1.5" fill="#8ab0e4"/>
<rect x="380" y="712.4" width="9.6" height="3.6" rx="1.5" fill="#c4c4c4"/><rect x="380.5" y="711.9" width="8.6" height="3.4" rx="1.5" fill="#0b56c4"/>
<rect x="390.3" y="751.1" width="9.6" height="3.6" rx="1.5" fill="#c4c4c4"/><rect x="390.8" y="750.6" width="8.6" height="3.4" rx="1.5" fill="#0b56c4"/>
<rect x="411.4" y="755.9" width="8.6" height="3.4" rx="1.5" fill="#8ab0e4"/>
<rect x="421.7" y="755.7" width="8.6" height="3.4" rx="1.5" fill="#8ab0e4"/>
<rect x="431.5" y="750.7" width="9.6" height="3.6" rx="1.5" fill="#c4c4c4"/><rect x="432" y="750.2" width="8.6" height="3.4" rx="1.5" fill="#0b56c4"/>
<rect x="441.8" y="753.9" width="9.6" height="3.6" rx="1.5" fill="#c4c4c4"/><rect x="442.3" y="753.4" width="8.6" height="3.4" rx="1.5" fill="#0b56c4"/>
<rect x="462.4" y="746.5" width="9.6" height="3.6" rx="1.5" fill="#c4c4c4"/><rect x="462.9" y="746" width="8.6" height="3.4" rx="1.5" fill="#0b56c4"/>
<rect x="472.7" y="747.8" width="9.6" height="3.6" rx="1.5" fill="#c4c4c4"/><rect x="473.2" y="747.3" width="8.6" height="3.4" rx="1.5" fill="#0b56c4"/>
<rect x="483" y="735.8" width="9.6" height="3.6" rx="1.5" fill="#c4c4c4"/><rect x="483.5" y="735.3" width="8.6" height="3.4" rx="1.5" fill="#0b56c4"/>
<rect x="493.3" y="754.5" width="9.6" height="3.6" rx="1.5" fill="#c4c4c4"/><rect x="493.8" y="754" width="8.6" height="3.4" rx="1.5" fill="#0b56c4"/>
<rect x="503.6" y="752.5" width="9.6" height="3.6" rx="1.5" fill="#c4c4c4"/><rect x="504.1" y="752" width="8.6" height="3.4" rx="1.5" fill="#0b56c4"/>
<rect x="534.5" y="705.8" width="9.6" height="3.6" rx="1.5" fill="#c4c4c4"/><rect x="535" y="705.3" width="8.6" height="3.4" rx="1.5" fill="#0b56c4"/>
<rect x="565.4" y="757" width="9.6" height="3.6" rx="1.5" fill="#c4c4c4"/><rect x="565.9" y="756.5" width="8.6" height="3.4" rx="1.5" fill="#0b56c4"/>
<rect x="576.2" y="755.6" width="8.6" height="3.4" rx="1.5" fill="#8ab0e4"/>
<rect x="596.3" y="757.2" width="9.6" height="3.6" rx="1.5" fill="#c4c4c4"/><rect x="596.8" y="756.7" width="8.6" height="3.4" rx="1.5" fill="#0b56c4"/>
<rect x="730.2" y="677.3" width="9.6" height="3.6" rx="1.5" fill="#c4c4c4"/><rect x="730.7" y="676.8" width="8.6" height="3.4" rx="1.5" fill="#7a12c8"/>
</g>

<!-- axis tick labels -->
<g class="ax">
<text x="12.7" y="763">2</text><text x="34.3" y="763">4</text><text x="55" y="763">5</text><text x="65" y="763">6</text><text x="106" y="763">7</text><text x="126.7" y="763">9</text><text x="147.7" y="763">11</text><text x="168.3" y="763">13</text>
<text x="220" y="763">14</text><text x="240.6" y="763">16</text><text x="271.5" y="763">19</text><text x="302.4" y="763">22</text><text x="333.3" y="763">25</text><text x="364.2" y="763">28</text><text x="395.1" y="763">31</text><text x="426" y="763">34</text><text x="456.9" y="763">37</text><text x="487.8" y="763">40</text><text x="518.7" y="763">43</text><text x="549.6" y="763">46</text><text x="580.5" y="763">49</text><text x="611.4" y="763">52</text><text x="642.3" y="763">55</text><text x="673.2" y="763">58</text><text x="704.1" y="763">61</text><text x="735" y="763">64</text><text x="765.9" y="763">67</text><text x="786.5" y="763">69</text>
</g>

<!-- vertical labels -->
<g class="vl">
<text class="lbf" transform="translate(16.4,751.6) rotate(-90)">KHIZ-LD</text>
<text class="lpf" transform="translate(16.4,732.1) rotate(-90)">KCWQ-LP</text>
<text class="lb" transform="translate(36.9,737.2) rotate(-90)">KAKZ-LD</text>
<text class="lb" transform="translate(57.9,700) rotate(-90)">KRVD-LD</text>
<text class="lbf" transform="translate(68.2,729.2) rotate(-90)">KZNO-LP</text>
<text class="lpf" transform="translate(68.2,724) rotate(-90)">KZNO-LP</text>
<text class="lpf" transform="translate(68.2,724) rotate(-90)">KSFV-CD</text>
<text class="lpf" transform="translate(68.2,714.3) rotate(-90)">KRPE-LP</text>
<text class="lb" transform="translate(109.4,728.2) rotate(-90)">KABC-TV</text>
<text class="lbf" transform="translate(119.9,748.3) rotate(-90)">KFLA-LD</text>
<text class="lb" transform="translate(119.9,708.6) rotate(-90)">KILA-LD</text>
<text class="lbf" transform="translate(130.2,730.6) rotate(-90)">KCAL-DT</text>
<text class="lb" transform="translate(140.4,726) rotate(-90)">KZSW-LD</text>
<text class="lb" transform="translate(150.9,725.6) rotate(-90)">KTTV</text>
<text class="lp" transform="translate(160.9,708.7) rotate(-90)">K12QV</text>
<text class="lb" transform="translate(171.4,727.3) rotate(-90)">KCOP-TV</text>

<text class="lb" transform="translate(264.6,737.7) rotate(-90)">KSCI</text>
<text class="lb" transform="translate(326.4,737.2) rotate(-90)">KBEH</text>
<text class="lp" transform="translate(336.2,682.2) rotate(-90)">KBLM-LP</text>
<text class="lb" transform="translate(336.7,699.8) rotate(-90)">KBLM-LP</text>
<text class="lb" transform="translate(347,660.5) rotate(-90)">KVCR-DT</text>
<text class="lbf" transform="translate(377.9,750.5) rotate(-90)">KFTR-DT</text>
<text class="lb" transform="translate(388.2,707.6) rotate(-90)">KCIO-LD</text>
<text class="lb" transform="translate(398.5,746.3) rotate(-90)">KTLA-DT</text>
<text class="lbf" transform="translate(419.1,751.6) rotate(-90)">KTBN-TV</text>
<text class="lbf" transform="translate(429.4,751.4) rotate(-90)">KMEX-DT</text>
<text class="lb" transform="translate(439.7,745.9) rotate(-90)">KRCA</text>
<text class="lb" transform="translate(450,749.1) rotate(-90)">KNBC-DT</text>
<text class="lb" transform="translate(470.6,741.7) rotate(-90)">KPXN-DT</text>
<text class="lb" transform="translate(480.9,743) rotate(-90)">KVEA</text>
<text class="lb" transform="translate(491.2,731) rotate(-90)">KPCD-LP</text>
<text class="lb" transform="translate(501.5,749.7) rotate(-90)">KLCS</text>
<text class="lb" transform="translate(511.8,747.7) rotate(-90)">KWHY-DT</text>
<text class="lb" transform="translate(542.7,701) rotate(-90)">KPOM-CD</text>
<text class="lb" transform="translate(573.6,752.2) rotate(-90)">KOCE-DT</text>
<text class="lbf" transform="translate(583.9,751.3) rotate(-90)">KJLA-DT</text>
<text class="lb" transform="translate(604.5,752.4) rotate(-90)">KXLA-DT</text>
<text class="lp" transform="translate(738.4,672.5) rotate(-90)">KSGA-LP</text>
</g>
</svg>
</body></html>
